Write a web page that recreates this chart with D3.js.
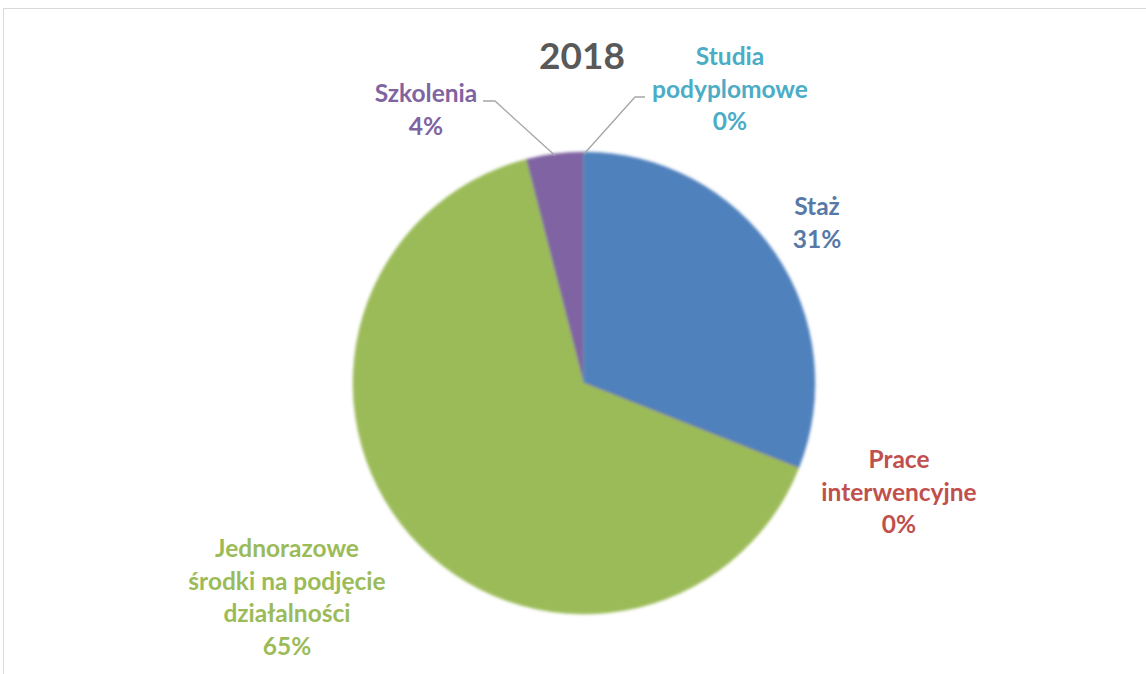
<!DOCTYPE html>
<html>
<head>
<meta charset="utf-8">
<script src="https://cdn.jsdelivr.net/npm/d3@7"></script>
<style>
  html, body { margin: 0; padding: 0; background: #fff; }
  svg { display: block; }
  text { font-family: Lato, "Open Sans", sans-serif; font-weight: 700; }
</style>
</head>
<body>
<svg id="chart" width="1146" height="674"></svg>
<script>
// Forms of support, 2018 (share of total, %)
const categories = ["Staż", "Prace interwencyjne", "Jednorazowe środki na podjęcie działalności", "Szkolenia", "Studia podyplomowe"];
const values = [31, 0, 65, 4, 0];
const labelLines = [
  ["Staż"],
  ["Prace", "interwencyjne"],
  ["Jednorazowe", "środki na podjęcie", "działalności"],
  ["Szkolenia"],
  ["Studia", "podyplomowe"]
];
const colors = ["#4F81BD", "#C0504D", "#9BBB59", "#8064A2", "#4BACC6"];
const labelColors = ["#5779a8", "#C0504D", "#9BBB59", "#8064A2", "#4BACC6"];
const title = "2018";

// Layout: label anchor (centre x, first baseline y) per slice
const labelAnchor = [[817, 215], [899, 468], [287, 557], [426, 102], [730, 65]];
const lineHeight = 32.5;

const svg = d3.select("#chart");
const W = 1146, H = 674;
const cx = 584, cy = 383, R = 231;

// chart frame
svg.append("rect")
  .attr("x", 3.5).attr("y", 8.5)
  .attr("width", W + 10).attr("height", H + 10)
  .attr("fill", "none").attr("stroke", "#d9d9d9").attr("stroke-width", 1);

const defs = svg.append("defs");
defs.append("filter").attr("id", "soft")
  .attr("x", "-10%").attr("y", "-10%").attr("width", "120%").attr("height", "120%")
  .append("feGaussianBlur").attr("stdDeviation", 1.5);

const pie = d3.pie().sort(null).value(d => d).startAngle(0).endAngle(2 * Math.PI);
const arcs = pie(values);
const arc = d3.arc().innerRadius(0).outerRadius(R);

const g = svg.append("g").attr("transform", `translate(${cx},${cy})`)
  .attr("filter", "url(#soft)");
g.selectAll("path").data(arcs).join("path")
  .attr("d", arc)
  .attr("fill", (d, i) => colors[i])
  .attr("stroke", (d, i) => colors[i]).attr("stroke-width", 0.5);

// leader lines for the two labels above the pie
function edgePoint(i, frac) {
  const a = arcs[i].startAngle + (arcs[i].endAngle - arcs[i].startAngle) * frac;
  return [cx + (R - 2) * Math.sin(a), cy - (R - 2) * Math.cos(a)];
}
const leaders = [
  { i: 3, pts: [[483, 101], [495, 101], edgePoint(3, 0.5)] },
  { i: 4, pts: [[645, 97], [635, 97], edgePoint(4, 0)] }
];
svg.selectAll("polyline.leader").data(leaders).join("polyline")
  .attr("class", "leader")
  .attr("points", d => d.pts.map(p => p.join(",")).join(" "))
  .attr("fill", "none").attr("stroke", "#a6a6a6").attr("stroke-width", 1.3);

// title
svg.append("text")
  .attr("x", 582).attr("y", 69)
  .attr("text-anchor", "middle")
  .attr("font-size", 37).attr("fill", "#595959")
  .text(title);

// data labels
const fmt = v => d3.format(".0f")(v) + "%";
const lg = svg.selectAll("g.label").data(arcs).join("g").attr("class", "label");
lg.each(function(d, i) {
  const lines = labelLines[i].concat([fmt(d.value)]);
  const t = d3.select(this).append("text")
    .attr("text-anchor", "middle")
    .attr("font-size", 24.5)
    .attr("fill", labelColors[i]);
  lines.forEach((s, k) => {
    t.append("tspan")
      .attr("x", labelAnchor[i][0])
      .attr("y", labelAnchor[i][1] + k * lineHeight)
      .text(s);
  });
});
</script>
</body>
</html>
